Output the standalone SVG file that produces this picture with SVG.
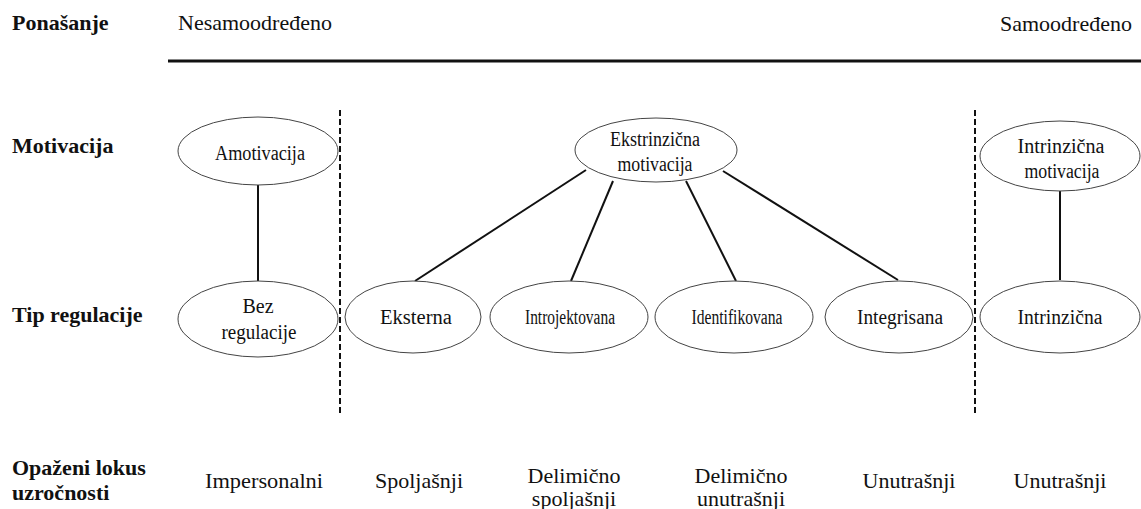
<svg xmlns="http://www.w3.org/2000/svg" width="1141" height="509" viewBox="0 0 1141 509">
<style>
text{font-family:"Liberation Serif","Times New Roman",serif;fill:#111}
.h{font-weight:bold;font-size:22px}
.t{font-size:22px}
.n{font-size:20px;text-anchor:middle}
.b{font-size:22px;text-anchor:middle}
ellipse{fill:#fff;stroke:#444;stroke-width:1}
.c{stroke:#111;stroke-width:2;fill:none}
.d{stroke:#111;stroke-width:2;stroke-dasharray:6 3;fill:none}
</style>
<rect width="1141" height="509" fill="#fff"/>
<g id="headers">
<text class="h" x="12" y="30">Ponašanje</text>
<text class="h" x="12" y="153">Motivacija</text>
<text class="h" x="12" y="322">Tip regulacije</text>
<text class="h" x="12" y="475">Opaženi lokus</text>
<text class="h" x="12" y="500">uzročnosti</text>
<text class="t" x="178" y="30">Nesamoodređeno</text>
<text class="t" x="1000" y="31">Samoodređeno</text>
</g>
<g id="connectors">
<line class="c" x1="168" y1="61" x2="1141" y2="61" style="stroke-width:3"/>
<line class="d" x1="340" y1="110" x2="340" y2="414"/>
<line class="d" x1="975" y1="110" x2="975" y2="414"/>
<line class="c" x1="258" y1="185" x2="258" y2="282"/>
<line class="c" x1="1060" y1="191" x2="1060" y2="280"/>
<line class="c" x1="586" y1="170" x2="415" y2="281"/>
<line class="c" x1="613" y1="181" x2="571" y2="281"/>
<line class="c" x1="686" y1="181" x2="736" y2="281"/>
<line class="c" x1="723" y1="171" x2="898" y2="280"/>
</g>
<g id="amotivacija">
<ellipse cx="258" cy="151" rx="80" ry="34"/>
<text class="n" x="260" y="160" textLength="90" lengthAdjust="spacingAndGlyphs">Amotivacija</text>
</g>
<g id="ekstrinzicna">
<ellipse cx="656" cy="150" rx="81" ry="32"/>
<text class="n" x="655" y="146" textLength="90" lengthAdjust="spacingAndGlyphs">Ekstrinzična</text>
<text class="n" x="655" y="171" textLength="75" lengthAdjust="spacingAndGlyphs">motivacija</text>
</g>
<g id="intrinzicna-motivacija">
<ellipse cx="1060" cy="156" rx="80" ry="35"/>
<text class="n" x="1061" y="153" textLength="87" lengthAdjust="spacingAndGlyphs">Intrinzična</text>
<text class="n" x="1062" y="178" textLength="75" lengthAdjust="spacingAndGlyphs">motivacija</text>
</g>
<g id="bez-regulacije">
<ellipse cx="258" cy="319" rx="80" ry="38"/>
<text class="n" x="258" y="313">Bez</text>
<text class="n" x="259" y="339" textLength="75" lengthAdjust="spacingAndGlyphs">regulacije</text>
</g>
<g id="eksterna">
<ellipse cx="413" cy="317" rx="68" ry="36"/>
<text class="n" x="416" y="324" textLength="72" lengthAdjust="spacingAndGlyphs">Eksterna</text>
</g>
<g id="introjektovana">
<ellipse cx="569" cy="317" rx="79" ry="36"/>
<text class="n" x="570" y="324" textLength="90" lengthAdjust="spacingAndGlyphs">Introjektovana</text>
</g>
<g id="identifikovana">
<ellipse cx="734" cy="317" rx="79" ry="36"/>
<text class="n" x="737" y="324" textLength="91" lengthAdjust="spacingAndGlyphs">Identifikovana</text>
</g>
<g id="integrisana">
<ellipse cx="899" cy="317" rx="74" ry="36"/>
<text class="n" x="900" y="324" textLength="86" lengthAdjust="spacingAndGlyphs">Integrisana</text>
</g>
<g id="intrinzicna">
<ellipse cx="1060" cy="317" rx="80" ry="36"/>
<text class="n" x="1060" y="324" textLength="85" lengthAdjust="spacingAndGlyphs">Intrinzična</text>
</g>
<g id="lokus">
<text class="b" x="264" y="488" textLength="118" lengthAdjust="spacingAndGlyphs">Impersonalni</text>
<text class="b" x="419" y="488">Spoljašnji</text>
<text class="b" x="574" y="483">Delimično</text>
<text class="b" x="574" y="506">spoljašnji</text>
<text class="b" x="741" y="483">Delimično</text>
<text class="b" x="741" y="506">unutrašnji</text>
<text class="b" x="909" y="488">Unutrašnji</text>
<text class="b" x="1060" y="488">Unutrašnji</text>
</g>
</svg>
